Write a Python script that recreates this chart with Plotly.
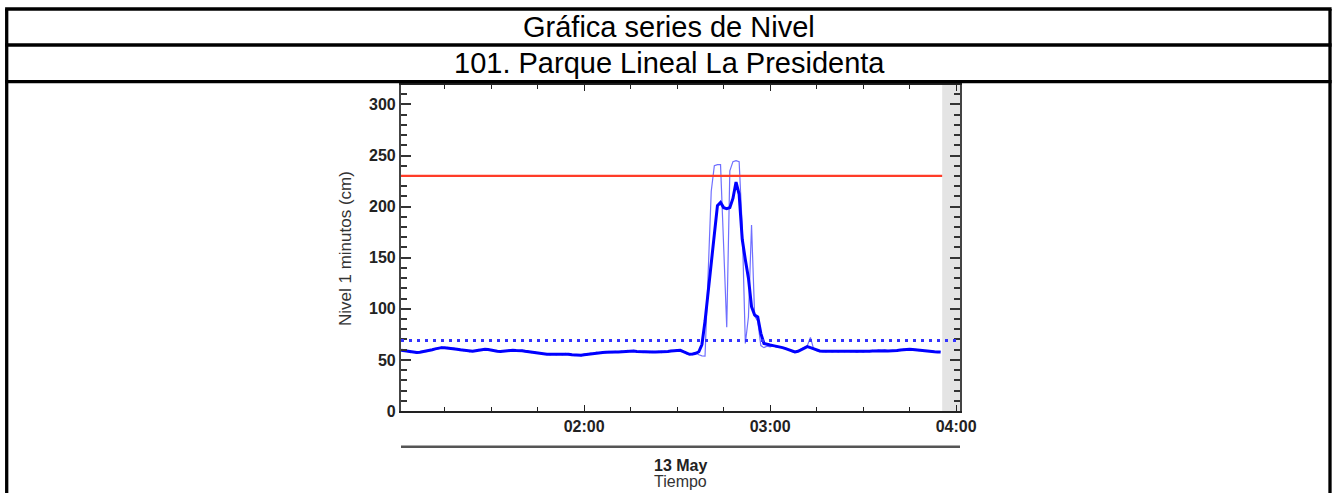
import pandas as pd
import plotly.graph_objects as go

# ---------------- data ----------------
title_main = "Gráfica series de Nivel"
title_station = "101. Parque Lineal La Presidenta"
date_label = "13 May"
x_title = "Tiempo"
y_title = "Nivel 1 minutos (cm)"

start_time = "2024-05-13 01:01"          # first 1-minute sample
n_samples = 175                           # 01:01 ... 03:55
x_range = ["2024-05-13 01:00:55", "2024-05-13 04:01:15"]
no_data_from = "2024-05-13 03:55:30"      # shaded (no data) zone start

alert_level = 230     # red threshold (cm)
normal_level = 69     # dotted blue reference (cm)

# smoothed level (thick line), cm
level_smooth = [
    59.4, 59.0, 58.5, 58.0, 57.5, 57.2, 57.5, 58.0, 58.8, 59.5,
    60.0, 60.8, 61.5, 62.0, 62.0, 61.8, 61.5, 61.0, 60.5, 60.0,
    59.5, 59.0, 58.5, 58.5, 59.0, 59.5, 60.0, 60.4, 60.2, 59.5,
    59.0, 58.5, 58.2, 58.5, 59.0, 59.4, 59.4, 59.2, 59.4, 59.0,
    58.5, 58.0, 57.8, 57.5, 57.0, 56.5, 56.0, 55.5, 55.5, 55.5,
    55.5, 55.5, 55.5, 55.8, 55.5, 55.0, 54.8, 54.5, 54.5, 55.0,
    55.5, 56.0, 56.5, 57.0, 57.1, 57.3, 57.5, 57.8, 57.8, 57.8,
    57.8, 58.0, 58.3, 58.6, 58.8, 58.6, 58.2, 58.0, 57.8, 57.8,
    57.8, 57.8, 57.8, 57.8, 57.8, 58.0, 58.3, 58.8, 59.0, 59.2,
    59.4, 58.0, 56.5, 55.5, 55.8, 56.5, 58.0, 65.0, 88.0, 118.0,
    142.0, 172.0, 201.0, 204.0, 199.0, 198.0, 199.0, 208.0, 224.0, 212.0,
    168.0, 148.0, 130.0, 102.0, 94.0, 92.0, 76.0, 66.0, 65.0, 64.5,
    64.0, 63.5, 63.0, 62.0, 61.0, 60.0, 58.5, 57.8, 58.5, 60.0,
    62.0, 63.0, 62.0, 61.0, 59.5, 58.8, 58.5, 58.5, 58.3, 58.2,
    58.2, 58.3, 58.5, 58.5, 58.5, 58.3, 58.0, 57.8, 57.8, 58.0,
    58.2, 58.5, 58.8, 59.0, 59.2, 59.3, 59.0, 58.8, 58.8, 59.0,
    59.3, 59.6, 60.0, 60.4, 60.4, 60.2, 59.8, 59.5, 59.0, 58.8,
    58.5, 58.3, 58.0, 57.8, 57.8,
]

# raw 1-minute level (thin line), cm
level_raw = [
    58.5, 59.8, 58.2, 57.1, 58.0, 56.5, 57.9, 58.6, 58.2, 60.1,
    59.6, 61.2, 61.0, 62.8, 61.5, 62.3, 61.0, 61.6, 60.0, 60.7,
    59.0, 59.7, 58.0, 59.1, 58.6, 60.2, 59.6, 61.0, 59.8, 60.1,
    58.4, 59.1, 57.6, 59.0, 58.5, 60.0, 58.9, 59.8, 58.8, 59.5,
    57.9, 58.6, 57.2, 58.1, 56.4, 57.0, 55.5, 56.1, 54.9, 56.0,
    55.0, 56.1, 54.9, 56.3, 55.0, 55.6, 54.2, 55.1, 53.9, 55.6,
    54.9, 56.6, 56.0, 57.6, 56.5, 57.9, 57.0, 58.4, 57.2, 58.3,
    57.3, 58.6, 57.8, 59.2, 58.2, 59.2, 57.7, 58.5, 57.2, 58.4,
    57.2, 58.4, 57.3, 58.3, 57.2, 58.6, 57.8, 59.4, 58.4, 59.8,
    58.8, 58.6, 55.9, 56.0, 55.2, 57.1, 55.0, 54.0, 53.8, 130.0,
    215.0, 240.0, 241.0, 241.0, 160.0, 82.0, 235.0, 244.0, 245.0, 244.0,
    180.0, 66.0, 92.0, 182.0, 93.0, 88.0, 64.0, 62.0, 63.5, 62.8,
    63.9, 62.5, 62.8, 61.2, 61.5, 59.6, 58.0, 57.2, 58.9, 59.8,
    61.5, 64.0, 72.0, 61.0, 59.0, 58.2, 58.9, 57.9, 58.7, 57.8,
    58.6, 57.9, 58.9, 58.1, 58.9, 57.8, 58.4, 57.3, 58.2, 57.6,
    58.7, 58.1, 59.3, 58.6, 59.7, 58.9, 59.4, 58.3, 59.2, 58.5,
    59.8, 59.1, 60.6, 60.0, 61.0, 59.8, 60.3, 59.1, 59.5, 58.4,
    59.0, 57.9, 58.4, 57.3, 58.2,
]

y_range = [0, 319]
y_major = 50
y_minor = 10

times = pd.date_range(start_time, periods=n_samples, freq="1min")

# ---------------- layout geometry (pixels) ----------------
W, H = 1338, 493
PL, PR, PT, PB = 401, 960, 85, 411          # plot area edges


def px(xp):
    return (xp - PL) / (PR - PL)


def py(yp):
    return (PB - yp) / (PB - PT)


FONT = "Liberation Sans, Arial, sans-serif"

fig = go.Figure()

fig.add_trace(go.Scatter(
    x=times, y=level_raw, mode="lines",
    line=dict(color="rgba(50,50,255,0.7)", width=1.2),
    hoverinfo="skip", showlegend=False))
fig.add_trace(go.Scatter(
    x=times, y=level_smooth, mode="lines",
    line=dict(color="#0000ff", width=3),
    showlegend=False))

shapes = []
# shaded zone without data
shapes.append(dict(type="rect", xref="x", yref="paper",
                   x0=no_data_from, x1=x_range[1], y0=0, y1=1,
                   fillcolor="#e4e4e4", line=dict(width=0), layer="below"))
# alert threshold
shapes.append(dict(type="line", xref="x", yref="y",
                   x0=x_range[0], x1=no_data_from, y0=alert_level, y1=alert_level,
                   line=dict(color="#ff3c28", width=2.2)))
# normal reference level
shapes.append(dict(type="line", xref="x", yref="y",
                   x0=x_range[0], x1=x_range[1], y0=normal_level, y1=normal_level,
                   line=dict(color="#3333ff", width=3, dash="3px,5px")))

# table frame
FL, FR, FT, R1, R2, FB = 6.7, 1330, 9, 45, 81.7, 500
frame = dict(color="black", width=3.3)
for yy in (FT, R1, R2):
    shapes.append(dict(type="line", xref="paper", yref="paper",
                       x0=px(FL - 1.6), x1=px(FR + 1.6), y0=py(yy), y1=py(yy), line=frame))
for xx in (FL, FR):
    shapes.append(dict(type="line", xref="paper", yref="paper",
                       x0=px(xx), x1=px(xx), y0=py(FT), y1=py(FB), line=frame))
# date axis line under the time axis
shapes.append(dict(type="line", xref="paper", yref="paper",
                   x0=0, x1=1, y0=py(446.7), y1=py(446.7),
                   line=dict(color="#555555", width=2.5)))

annotations = [
    dict(text=title_main, x=px(669), y=py(27), xref="paper", yref="paper",
         showarrow=False, font=dict(family=FONT, size=29, color="black"),
         xanchor="center", yanchor="middle"),
    dict(text=title_station, x=px(669), y=py(63.3), xref="paper", yref="paper",
         showarrow=False, font=dict(family=FONT, size=29, color="black"),
         xanchor="center", yanchor="middle"),
    dict(text=y_title, x=px(345), y=py(249), xref="paper", yref="paper",
         showarrow=False, textangle=-90,
         font=dict(family=FONT, size=17, color="#333333"),
         xanchor="center", yanchor="middle"),
    dict(text=date_label, x=0.5, y=py(465), xref="paper", yref="paper",
         showarrow=False, font=dict(family=FONT, size=16, color="#222222", weight="bold"),
         xanchor="center", yanchor="middle"),
    dict(text=x_title, x=0.5, y=py(481), xref="paper", yref="paper",
         showarrow=False, font=dict(family=FONT, size=16, color="#333333"),
         xanchor="center", yanchor="middle"),
]

fig.update_layout(
    width=W, height=H,
    margin=dict(l=PL, r=W - PR, t=PT, b=H - PB, pad=0),
    paper_bgcolor="white", plot_bgcolor="white",
    shapes=shapes, annotations=annotations,
    showlegend=False,
    font=dict(family=FONT),
)

fig.update_xaxes(
    type="date", range=x_range,
    tickformat="%H:%M", dtick=3600000, tick0="2024-05-13 00:00",
    ticks="inside", ticklen=6, tickwidth=1.2, tickcolor="#222222",
    minor=dict(dtick=900000, ticks="inside", ticklen=4, tickwidth=1.2, tickcolor="#222222"),
    showline=True, linecolor="#222222", linewidth=1.8, mirror="ticks",
    showgrid=False, zeroline=False,
    tickfont=dict(family=FONT, size=16, color="#222222", weight="bold"),
)
fig.update_yaxes(
    range=y_range, dtick=y_major, tick0=0,
    ticks="inside", ticklen=10, tickwidth=1.5, tickcolor="#333333",
    minor=dict(dtick=y_minor, ticks="inside", ticklen=6, tickwidth=1.5, tickcolor="#333333"),
    showline=True, linecolor="#444444", linewidth=2.2, mirror="ticks",
    showgrid=False, zeroline=False,
    tickfont=dict(family=FONT, size=16, color="#222222", weight="bold"),
)

fig.write_html(
    "out.html",
    config={"displayModeBar": False},
    post_script="document.body.style.margin='0';document.body.style.overflow='hidden';",
)
